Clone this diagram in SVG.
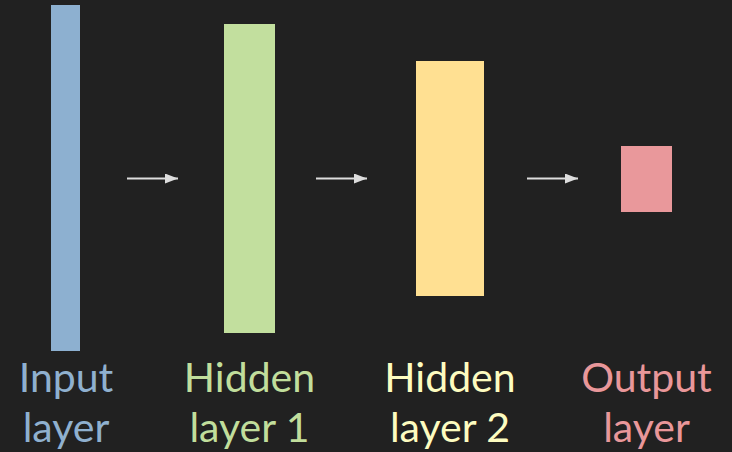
<svg xmlns="http://www.w3.org/2000/svg" width="732" height="452" viewBox="0 0 732 452">
<defs>
<marker id="ah" viewBox="0 0 13 10" refX="13" refY="5" markerWidth="13" markerHeight="10" markerUnits="userSpaceOnUse" orient="auto">
<path d="M0,0 L13,5 L0,10 Z" fill="#dddddd"/>
</marker>
</defs>
<style>
.lbl{font-family:Lato,"Open Sans",sans-serif;font-size:41px;text-anchor:middle}
.conn{stroke:#dddddd;stroke-width:2;fill:none}
</style>
<rect width="732" height="452" fill="#212121"/>
<g id="input">
<rect x="51" y="5" width="29" height="346" fill="#8db0d0"/>
<text class="lbl" fill="#8fb0cf"><tspan x="66" y="392">Input</tspan><tspan x="66" y="442">layer</tspan></text>
</g>
<g id="hidden1">
<rect x="224" y="24" width="51" height="309" fill="#c2df9e"/>
<text class="lbl" fill="#c1de9c"><tspan x="249.5" y="392">Hidden</tspan><tspan x="249.5" y="442">layer 1</tspan></text>
</g>
<g id="hidden2">
<rect x="416" y="61" width="68" height="235" fill="#ffe092"/>
<text class="lbl" fill="#fdfcc0"><tspan x="450" y="392">Hidden</tspan><tspan x="450" y="442">layer 2</tspan></text>
</g>
<g id="output">
<rect x="621" y="146" width="51" height="66" fill="#e9989b"/>
<text class="lbl" fill="#e9979a"><tspan x="646.5" y="392">Output</tspan><tspan x="646.5" y="442">layer</tspan></text>
</g>
<g id="connectors">
<line class="conn" x1="127" y1="178.5" x2="178" y2="178.5" marker-end="url(#ah)"/>
<line class="conn" x1="316" y1="178.5" x2="367" y2="178.5" marker-end="url(#ah)"/>
<line class="conn" x1="527" y1="178.5" x2="578" y2="178.5" marker-end="url(#ah)"/>
</g>
</svg>
